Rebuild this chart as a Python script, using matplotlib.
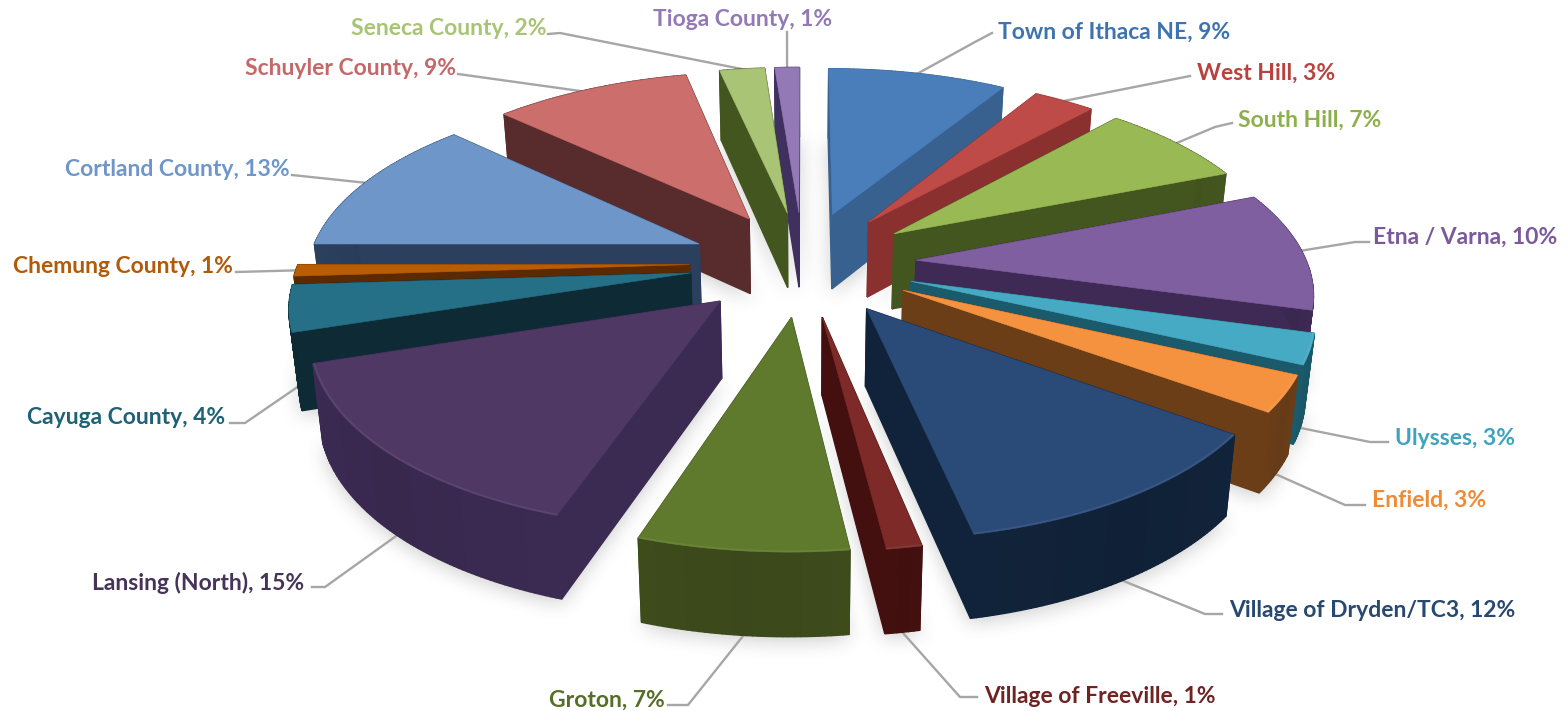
import numpy as np
import matplotlib
matplotlib.use("Agg")
import matplotlib.pyplot as plt
from matplotlib.patches import Polygon
from matplotlib.path import Path

# ---- data ----
labels = ["Town of Ithaca NE", "West Hill", "South Hill", "Etna / Varna", "Ulysses", "Enfield",
          "Village of Dryden/TC3", "Village of Freeville", "Groton", "Lansing (North)",
          "Cayuga County", "Chemung County", "Cortland County", "Schuyler County",
          "Seneca County", "Tioga County"]
percent_labels = [9, 3, 7, 10, 3, 3, 12, 1, 7, 15, 4, 1, 13, 9, 2, 1]
# slice shares as measured on the picture (the labels above are rounded)
shares = [8.7, 3.0, 7.3, 10.3, 2.6, 3.1, 11.8, 1.2, 7.1, 14.9, 4.0, 1.0, 12.0, 9.6, 2.2, 1.2]

# ---- styles ----
top_colors = ["#4A7EBB", "#BE4B48", "#98B954", "#7F5F9F", "#46AAC4", "#F59240",
              "#2A4B78", "#7D2A28", "#5F7A2C", "#4F3864", "#256F87", "#B85C05",
              "#6E96C8", "#CC6E6B", "#A9C475", "#9379B5"]
wall_colors = ["#38618F", "#8A302E", "#44561F", "#3E2A55", "#1B5A6B", "#6B3E18",
               "#11233A", "#44100F", "#3E4C1C", "#3B2A52", "#0E2B35", "#5B2A02",
               "#2B3F5F", "#582C2C", "#44561F", "#3F305F"]
text_colors = ["#3F73B0", "#B8423F", "#8DB04C", "#7A5A9A", "#3FA3BD", "#F08A35",
               "#274870", "#6E2422", "#566E28", "#463458", "#1F6175", "#B05A0A",
               "#6E96C8", "#C4686A", "#A9C475", "#9379B5"]
label_x = [998, 1197, 1238, 1373, 1395, 1372, 1229, 984, 549, 92, 27, 13, 65, 245, 351, 653]
label_y = [32.5, 73.5, 120.5, 237.5, 438.5, 500.5, 610.5, 696.5, 700.5, 582.5, 417.5, 266.5, 169.5, 68.5, 28.5, 19.5]
leader_start = [(992, 33), (1190, 76), (1232, 123), (1369, 242), (1388, 442), (1365, 505),
                (1222, 614), (977, 697), (668, 705), (312, 587), (230, 423), (236, 272),
                (292, 175), (458, 74), (548, 34), (787, 32)]
leader_elbow = [(975, 42), None, (1215, 127), (1355, 242), (1370, 442), (1345, 505),
                (1205, 614), (960, 697), (688, 705), (325, 587), (245, 423), None,
                None, None, (560, 33), None]
leader_level = [0, 0, 0, 0, 1, 1, 1, 1, 1, 1, 1, 0, 0, 0, 0, 0]
leader_frac = [0.5, 0.5, 0.5, 0.5, 0.5, 0.5, 0.5, 0.5, 0.5, 0.5, 0.5, 0.5, 0.5, 0.45, 0.5, 0.5]

# ---- projection of the tilted pie ----
CX, CY, FX, FY, K, EXPLODE, DEPTH = 803.0, 263.0, 391.0, 181.0, 0.15, 0.29, 76.0


def project(X, Y, z=0.0):
    X, Y = np.asarray(X, float), np.asarray(Y, float)
    s = 1.0 / (1.0 + K * Y)
    u = CX + FX * X * s
    v = CY - FY * Y * s
    v = v + z * DEPTH * np.sqrt(s)
    u = CX + (u - CX) * (1 - 0.02 * z)
    return u, v


def shade(c, f):
    rgb = np.array(matplotlib.colors.to_rgb(c))
    return tuple(np.clip(rgb * f, 0, 1)) if f <= 1 else tuple(rgb + (1 - rgb) * (f - 1))


plt.rcParams["font.family"] = ["Lato", "DejaVu Sans"]
W, H = 1568, 711
fig = plt.figure(figsize=(W / 100, H / 100), dpi=100, facecolor="white")
ax = fig.add_axes([0, 0, 1, 1])
ax.set_xlim(0, W)
ax.set_ylim(H, 0)
ax.axis("off")

fracs = np.array(shares, float) / sum(shares)
edges = np.concatenate([[0], np.cumsum(fracs)]) * 2 * np.pi

slices = []
for i in range(len(shares)):
    a0, a1 = edges[i], edges[i + 1]
    mid = (a0 + a1) / 2
    ox, oy = EXPLODE * np.sin(mid), EXPLODE * np.cos(mid)
    th = np.linspace(a0, a1, max(6, int(shares[i] * 5)) + 1)
    rx, ry = ox + np.sin(th), oy + np.cos(th)
    slices.append(dict(i=i, ox=ox, oy=oy, th=th, rx=rx, ry=ry, mid=mid, order=oy + np.cos(mid)))

# ---- soft floor shadow ----
step = 2
gx, gy = np.meshgrid(np.arange(0, W, step) + 1, np.arange(0, H, step) + 1)
pts = np.column_stack([gx.ravel(), gy.ravel()])
mask = np.zeros(gx.shape)
for s in slices:
    px = np.concatenate([[s["ox"]], s["rx"]])
    py = np.concatenate([[s["oy"]], s["ry"]])
    u, v = project(px, py, 1.0)
    inside = Path(np.column_stack([u, v + 5])).contains_points(pts).reshape(gx.shape)
    mask = np.maximum(mask, inside.astype(float))


def box_blur(a, r):
    k = np.ones(2 * r + 1) / (2 * r + 1)
    a = np.apply_along_axis(lambda m: np.convolve(m, k, mode="same"), 0, a)
    a = np.apply_along_axis(lambda m: np.convolve(m, k, mode="same"), 1, a)
    return a


blur = box_blur(box_blur(mask, 5), 5)
rgba = np.zeros(gx.shape + (4,))
rgba[..., :3] = 0.35
rgba[..., 3] = 0.30 * blur
ax.imshow(rgba, extent=(0, W, H, 0), aspect="auto", zorder=0, interpolation="bilinear")
ax.set_xlim(0, W)
ax.set_ylim(H, 0)

# ---- slices back to front ----
z = 1
for s in sorted(slices, key=lambda d: -d["order"]):
    i = s["i"]
    top, wall = top_colors[i], wall_colors[i]
    faces = []
    for rx, ry in ((s["rx"][0], s["ry"][0]), (s["rx"][-1], s["ry"][-1])):
        xs = [s["ox"], rx, rx, s["ox"]]
        ys = [s["oy"], ry, ry, s["oy"]]
        u, v = project(xs, ys, np.array([0, 0, 1, 1]))
        faces.append(((s["oy"] + ry) / 2, np.column_stack([u, v]), wall))
    n = len(s["th"]) - 1
    for j in range(n):
        xs = [s["rx"][j], s["rx"][j + 1], s["rx"][j + 1], s["rx"][j]]
        ys = [s["ry"][j], s["ry"][j + 1], s["ry"][j + 1], s["ry"][j]]
        u, v = project(xs, ys, np.array([0, 0, 1, 1]))
        tm = (j + 0.5) / n
        f = 0.95 + 0.10 * abs(tm - 0.5)
        faces.append((np.mean(ys) - 0.3, np.column_stack([u, v]), shade(wall, f)))
    for _, poly, col in sorted(faces, key=lambda t: -t[0]):
        ax.add_patch(Polygon(poly, closed=True, facecolor=col, edgecolor=col, lw=1.0, zorder=z))
        z += 1
    px = np.concatenate([[s["ox"]], s["rx"]])
    py = np.concatenate([[s["oy"]], s["ry"]])
    u, v = project(px, py, 0.0)
    ax.add_patch(Polygon(np.column_stack([u, v]), closed=True, facecolor=top, edgecolor=top, lw=0.4, zorder=z))
    z += 1
    # bevel highlight along the rim of the nearer slices
    if np.cos(s["mid"]) < -0.3:
        rim_x = s["ox"] + 0.997 * np.sin(s["th"])
        rim_y = s["oy"] + 0.997 * np.cos(s["th"])
        u, v = project(rim_x, rim_y, 0.0)
        ax.plot(u, v, color=shade(top, 1.15), lw=1.3, alpha=0.45, zorder=z, solid_capstyle="butt")
        z += 1

# ---- leaders and labels ----
for s in slices:
    i = s["i"]
    f = leader_frac[i]
    ang = s["th"][0] + (s["th"][-1] - s["th"][0]) * f
    ax_u, ax_v = project(s["ox"] + np.sin(ang), s["oy"] + np.cos(ang), float(leader_level[i]))
    xs, ys = [leader_start[i][0]], [leader_start[i][1]]
    if leader_elbow[i] is not None:
        xs.append(leader_elbow[i][0])
        ys.append(leader_elbow[i][1])
    xs.append(float(ax_u))
    ys.append(float(ax_v))
    ax.plot(xs, ys, color="#A6A6A6", lw=1.7, zorder=1 if leader_level[i] else 0.5, solid_joinstyle="round")
    ax.text(label_x[i], label_y[i], f"{labels[i]}, {percent_labels[i]}%", color=text_colors[i],
            fontsize=16.5, fontweight="bold", ha="left", va="center", zorder=5000)

fig.savefig("out.png", dpi=100, facecolor="white")
